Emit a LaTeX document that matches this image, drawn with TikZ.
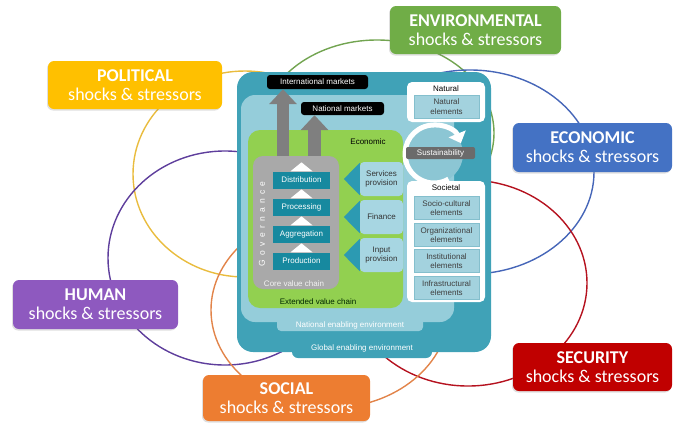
\documentclass[tikz,border=0pt]{standalone}
\usepackage{fontspec}
\setmainfont{Carlito}
\newfontfamily\arialfont{Liberation Sans}
\usetikzlibrary{arrows.meta,calc,shadows}
\definecolor{globalteal}{HTML}{40A2B7}
\definecolor{nationalblue}{HTML}{95CDDA}
\definecolor{extgreen}{HTML}{92D050}
\definecolor{coregray}{HTML}{A9A9A9}
\definecolor{arrowgray}{HTML}{7F7F7F}
\definecolor{stepteal}{HTML}{17899F}
\definecolor{servblue}{HTML}{A7D6E2}
\definecolor{tipteal}{HTML}{2C9AB2}
\definecolor{elemblue}{HTML}{A3D2DE}
\definecolor{elemline}{HTML}{84BFCD}
\definecolor{sustgray}{HTML}{6B6B6B}
\definecolor{sustfill}{HTML}{8CC6D4}
\definecolor{envgreen}{HTML}{70AD47}
\definecolor{polyellow}{HTML}{FFC000}
\definecolor{ecoblue}{HTML}{4472C4}
\definecolor{humpurple}{HTML}{8E59BF}
\definecolor{secred}{HTML}{C00000}
\definecolor{socorange}{HTML}{ED7D31}
\definecolor{ringgreen}{HTML}{72A450}
\definecolor{ringyellow}{HTML}{E9BC3E}
\definecolor{ringblue}{HTML}{4666B8}
\definecolor{ringred}{HTML}{B5121F}
\definecolor{ringpurple}{HTML}{5E3E9C}
\definecolor{ringorange}{HTML}{E2844A}

\begin{document}
\begin{tikzpicture}[x=1pt,y=-1pt,
    shock/.style={rounded corners=6pt,text=white,align=center,inner sep=0pt,
      font=\fontsize{18}{19}\selectfont,
      drop shadow={shadow xshift=-1pt,shadow yshift=-1.5pt,opacity=0.25}},
    ring/.style={line width=1.4pt},
    lbl/.style={font=\arialfont\fontsize{8}{9.5}\selectfont,align=center,inner sep=0pt},
    market/.style={lbl,fill=black,text=white,rounded corners=3pt,minimum height=14pt},
    chainstep/.style={lbl,fill=stepteal,text=white,minimum width=57pt,minimum height=17pt},
    service/.style={lbl,fill=servblue,text=black!80,rounded corners=4pt,
      minimum width=43pt,minimum height=34pt},
    element/.style={lbl,fill=elemblue,draw=elemline,text=black!75,
      minimum width=65pt,minimum height=23pt},
    panel/.style={fill=white,rounded corners=5pt,minimum width=78pt},
    marketarrow/.style={draw=arrowgray,line width=12.5pt,-{Triangle[width=27pt,length=15pt]}}]

  \useasboundingbox (0,0) rectangle (674,424);

  % shock circles
  \draw[ring,ringgreen]  (377,133) ellipse [x radius=117,y radius=93];
  \draw[ring,ringyellow] (245,174) ellipse [x radius=112,y radius=103];
  \draw[ring,ringblue]   (470,172) ellipse [x radius=124,y radius=102];
  \draw[ring,ringred]    (468,283) ellipse [x radius=119,y radius=103];
  \draw[ring,ringpurple] (225,258) ellipse [x radius=117,y radius=107];
  \draw[ring,ringorange] (330,310) ellipse [x radius=119,y radius=98];

  % enabling environments
  \fill[globalteal,rounded corners=16pt] (237,72) rectangle (491,352);
  \fill[globalteal,rounded corners=6pt] (292,338) rectangle (432,358);
  \fill[nationalblue,rounded corners=14pt] (241,95) rectangle (454,322);
  \fill[nationalblue,rounded corners=4pt] (277,316) rectangle (423,331);
  \fill[extgreen,rounded corners=12pt] (248,130) rectangle (403,308);

  \node[lbl,text=white] (global) at (362,348) {Global enabling environment};
  \node[lbl,text=white] (national) at (350,325) {National enabling environment};
  \node[lbl] (economic) at (368,142) {Economic};
  \node[lbl,text=black!85!green] (extended) at (318,302) {Extended value chain};

  % core value chain
  \node[fill=coregray,rounded corners=10pt,minimum width=86pt,minimum height=133pt]
    (core) at (296,222.5) {};
  \node[market,minimum width=101pt] (intl) at (317.5,82) {International markets};
  \node[market,minimum width=83pt,minimum height=13pt] (natl) at (342.5,108.5) {National markets};
  \coordinate (intlfoot) at ([xshift=-13pt]core.north);
  \coordinate (natlfoot) at ([xshift=18.5pt]core.north);
  \draw[marketarrow] (intlfoot) -- (intlfoot |- intl.south);
  \draw[marketarrow] (natlfoot) -- (natlfoot |- natl.south);

  \node[chainstep] (distribution) at (301.5,180) {Distribution};
  \node[chainstep] (processing) at (301.5,207) {Processing};
  \node[chainstep] (aggregation) at (301.5,234) {Aggregation};
  \node[chainstep] (production) at (301.5,261) {Production};
  \foreach \s in {distribution,processing,aggregation,production}
    \fill[white] ([xshift=-11pt]\s.north) -- ([yshift=9pt]\s.north)
      -- ([xshift=11pt]\s.north) -- cycle;
  \node[lbl,rotate=90,text=white,
    font=\arialfont\fontsize{8.5}{9}\selectfont\addfontfeature{LetterSpace=50}]
    (governance) at (262,224) {Governance};
  \node[lbl,text=white!90!gray] (corelabel) at (294,284) {Core value chain};

  % supporting services
  \node[service] (services) at (381.5,179) {Services\\provision};
  \node[service] (finance) at (381.5,217) {Finance};
  \node[service] (input) at (381.5,255) {Input\\provision};
  \foreach \s in {services,finance,input}
    \fill[tipteal] ([yshift=-1pt]\s.north west) -- ([xshift=-16pt]\s.west)
      -- ([yshift=1pt]\s.south west) -- cycle;

  % sustainability
  \node[circle,fill=sustfill,minimum size=58pt,inner sep=0pt] (sustring) at (434,154) {};
  \draw[white,line width=5pt,-{Triangle[width=18pt,length=10pt]}]
    ($(sustring.center)+(-200:29)$) arc[start angle=-200,end angle=-22,radius=29];
  \draw[white,line width=5pt]
    ($(sustring.center)+(-190:29)$) arc[start angle=-190,end angle=-300,radius=29];

  \node[panel,minimum height=40pt] (naturalpanel) at (446,102) {};
  \node[lbl] (natural) at (446,89) {Natural};
  \node[element] (naturalel) at (446.5,106.5) {Natural\\elements};

  \node[lbl,fill=sustgray,text=white,rounded corners=2pt,minimum width=69pt,
    minimum height=12pt] (sustainability) at (440.5,153) {Sustainability};

  \node[panel,minimum height=121pt] (societalpanel) at (446,241.5) {};
  \node[lbl] (societal) at (446,188) {Societal};
  \node[element] (sociocultural) at (446.5,208) {Socio-cultural\\elements};
  \node[element] (organizational) at (446.5,235) {Organizational\\elements};
  \node[element] (institutional) at (446.5,261) {Institutional\\elements};
  \node[element] (infrastructural) at (446.5,288) {Infrastructural\\elements};

  % shocks and stressors
  \node[shock,fill=envgreen,minimum width=171pt,minimum height=48pt]
    (environmental) at (475.5,30) {\textbf{ENVIRONMENTAL}\\shocks \& stressors};
  \node[shock,fill=polyellow,minimum width=174pt,minimum height=48pt]
    (political) at (135,85) {\textbf{POLITICAL}\\shocks \& stressors};
  \node[shock,fill=ecoblue,minimum width=159pt,minimum height=49pt]
    (economicshock) at (592.5,147.5) {\textbf{ECONOMIC}\\shocks \& stressors};
  \node[shock,fill=humpurple,minimum width=165pt,minimum height=49pt]
    (human) at (95.5,304.5) {\textbf{HUMAN}\\shocks \& stressors};
  \node[shock,fill=secred,minimum width=159pt,minimum height=48pt]
    (security) at (592.5,367) {\textbf{SECURITY}\\shocks \& stressors};
  \node[shock,fill=socorange,minimum width=167pt,minimum height=46pt]
    (social) at (286.5,398) {\textbf{SOCIAL}\\shocks \& stressors};
\end{tikzpicture}
\end{document}
